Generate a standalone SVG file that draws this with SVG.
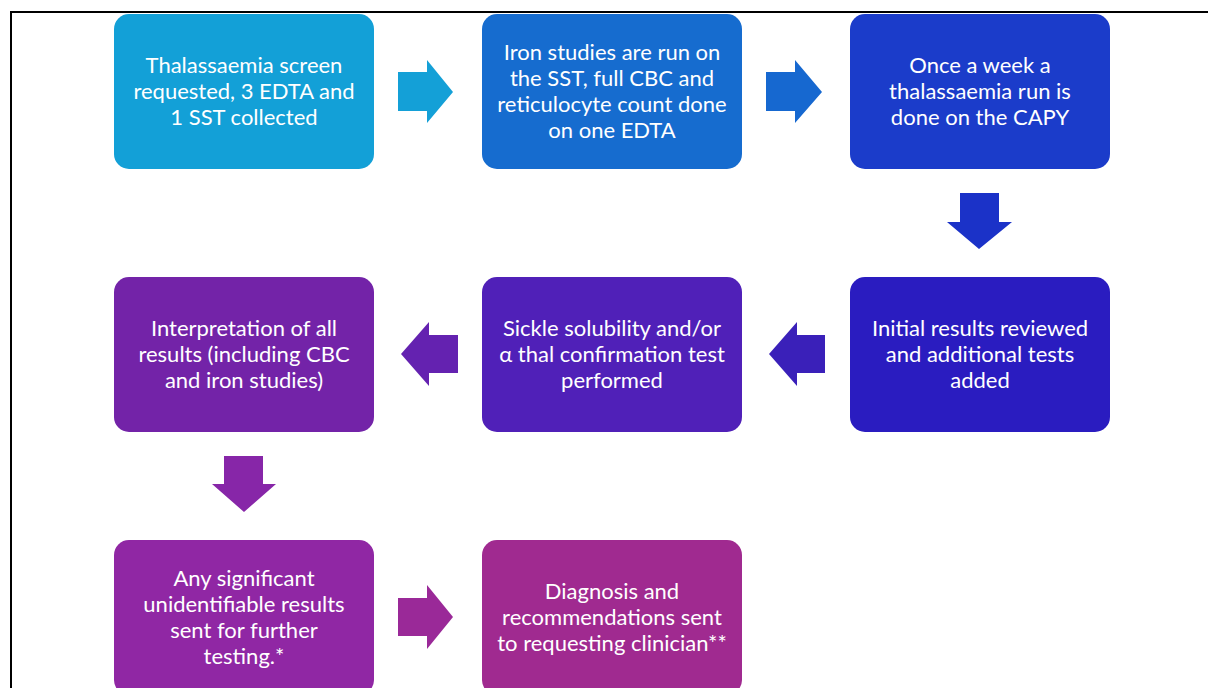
<svg xmlns="http://www.w3.org/2000/svg" width="1208" height="688" viewBox="0 0 1208 688">
<style>
.box{stroke:none}
.t{font-family:Lato,"Open Sans","Noto Sans",sans-serif;font-size:22px;fill:#ffffff;text-anchor:middle;dominant-baseline:central}
</style>
<rect width="1208" height="688" fill="#ffffff"/>
<path d="M11,688 V12 H1208" fill="none" stroke="#000000" stroke-width="2"/>
<g id="connectors">
<polygon points="398,72 427,72 427,60 453,92 427,123 427,111 398,111" fill="#14A0D7"/>
<polygon points="766,72 795,72 795,60 822,92 795,123 795,111 766,111" fill="#1668D0"/>
<polygon points="960,193 999,193 999,222 1012,222 979,249 947,222 960,222" fill="#1B32C8"/>
<polygon points="825,335 797,335 797,322 769,354 797,386 797,373 825,373" fill="#3A20B9"/>
<polygon points="458,335 429,335 429,322 401,354 429,386 429,373 458,373" fill="#6422B0"/>
<polygon points="224,456 263,456 263,484 276,484 244,512 212,484 224,484" fill="#8726A8"/>
<polygon points="398,598 427,598 427,585 453,617 427,649 427,636 398,636" fill="#9A2998"/>
</g>
<g id="n1"><rect class="box" x="114" y="14" width="260" height="155" rx="15" fill="#13A0D7"/>
<text class="t"><tspan x="244" y="64">Thalassaemia screen</tspan><tspan x="244" y="90">requested, 3 EDTA and</tspan><tspan x="244" y="116">1 SST collected</tspan></text></g>
<g id="n2"><rect class="box" x="482" y="14" width="260" height="155" rx="15" fill="#166CCF"/>
<text class="t"><tspan x="612" y="51">Iron studies are run on</tspan><tspan x="612" y="77">the SST, full CBC and</tspan><tspan x="612" y="103">reticulocyte count done</tspan><tspan x="612" y="129">on one EDTA</tspan></text></g>
<g id="n3"><rect class="box" x="850" y="14" width="260" height="155" rx="15" fill="#1B3CCA"/>
<text class="t"><tspan x="980" y="64">Once a week a</tspan><tspan x="980" y="90">thalassaemia run is</tspan><tspan x="980" y="116">done on the CAPY</tspan></text></g>
<g id="n4"><rect class="box" x="850" y="277" width="260" height="155" rx="15" fill="#2A1CC0"/>
<text class="t"><tspan x="980" y="327">Initial results reviewed</tspan><tspan x="980" y="353">and additional tests</tspan><tspan x="980" y="379">added</tspan></text></g>
<g id="n5"><rect class="box" x="482" y="277" width="260" height="155" rx="15" fill="#5020B8"/>
<text class="t"><tspan x="612" y="327">Sickle solubility and/or</tspan><tspan x="612" y="353">α thal confirmation test</tspan><tspan x="612" y="379">performed</tspan></text></g>
<g id="n6"><rect class="box" x="114" y="277" width="260" height="155" rx="15" fill="#7323A8"/>
<text class="t"><tspan x="244" y="327">Interpretation of all</tspan><tspan x="244" y="353">results (including CBC</tspan><tspan x="244" y="379">and iron studies)</tspan></text></g>
<g id="n7"><rect class="box" x="114" y="540" width="260" height="155" rx="15" fill="#9027A4"/>
<text class="t"><tspan x="244" y="577">Any significant</tspan><tspan x="244" y="603">unidentifiable results</tspan><tspan x="244" y="629">sent for further</tspan><tspan x="244" y="655">testing.*</tspan></text></g>
<g id="n8"><rect class="box" x="482" y="540" width="260" height="155" rx="15" fill="#A02A90"/>
<text class="t"><tspan x="612" y="590">Diagnosis and</tspan><tspan x="612" y="616">recommendations sent</tspan><tspan x="612" y="642">to requesting clinician**</tspan></text></g>
</svg>
